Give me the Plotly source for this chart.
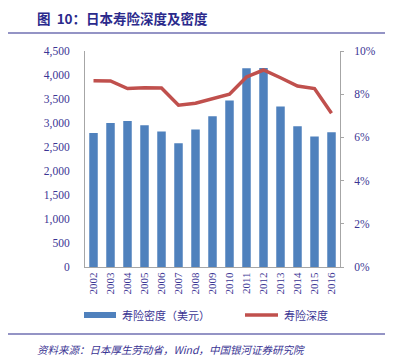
import plotly.graph_objects as go

years = [str(y) for y in range(2002, 2017)]
density_usd = [2790, 3000, 3040, 2955, 2825, 2580, 2865, 3140, 3470, 4140, 4145, 3345, 2930, 2720, 2805]
depth_pct = [8.62, 8.61, 8.26, 8.30, 8.29, 7.49, 7.58, 7.79, 8.00, 8.80, 9.12, 8.76, 8.38, 8.26, 7.12]
left_ticks = list(range(0, 4501, 500))
right_ticks = [0, 2, 4, 6, 8, 10]

OFF = 8  # page body margin
W, H = 397 - OFF, 361 - OFF
# plot area in reference screen pixels
X0, X1, Y0, Y1 = 85, 340, 51, 267
L, R, T, B = X0 - OFF, W - (X1 - OFF), Y0 - OFF, H - (Y1 - OFF)
tick_color = "#3b3594"
serif = "Liberation Serif, Times New Roman, serif"
cjk = "Noto Sans CJK SC, sans-serif"

fig = go.Figure()
fig.add_trace(go.Bar(x=years, y=density_usd, marker=dict(color="#4f81bd", line=dict(width=0)),
                     name="寿险密度（美元）", showlegend=False))
fig.add_trace(go.Scatter(x=years, y=depth_pct, yaxis="y2", mode="lines",
                         line=dict(color="#c0504d", width=3.5), name="寿险深度", showlegend=False))

def px(x):  # reference screen x -> paper
    return (x - X0) / (X1 - X0)

def py(y):  # reference screen y -> paper
    return (Y1 - y) / (Y1 - Y0)

fig.update_layout(
    width=W, height=H,
    margin=dict(l=L, r=R, t=T, b=B, pad=0),
    paper_bgcolor="white", plot_bgcolor="white",
    bargap=0.5,
    xaxis=dict(type="category", tickangle=-90, showline=True, linecolor="#a6a6a6", linewidth=1,
               ticks="", tickfont=dict(family=serif, size=11, color=tick_color), showgrid=False),
    yaxis=dict(range=[0, 4500], tickvals=left_ticks, tickformat=",d", showgrid=False, zeroline=False,
               showline=True, linecolor="#a6a6a6", linewidth=1, ticks="",
               tickfont=dict(family=serif, size=11.5, color=tick_color), ticklabelstandoff=12),
    yaxis2=dict(range=[0, 10], tickvals=right_ticks, ticktext=[f"{v}%" for v in right_ticks],
                overlaying="y", side="right", showgrid=False, zeroline=False,
                showline=True, linecolor="#a6a6a6", linewidth=1, ticks="outside", ticklen=3,
                tickcolor="#a6a6a6",
                tickfont=dict(family=serif, size=11.5, color=tick_color), ticklabelstandoff=8),
    font=dict(family=serif),
)

shapes = [
    dict(type="line", xref="paper", yref="paper", x0=px(0), x1=px(385), y0=py(33), y1=py(33),
         line=dict(color="#2b2a8c", width=1.2)),
    dict(type="line", xref="paper", yref="paper", x0=px(0), x1=px(385), y0=py(334), y1=py(334),
         line=dict(color="#2b2a8c", width=1.2)),
    dict(type="rect", xref="paper", yref="paper", x0=px(84), x1=px(116), y0=py(318), y1=py(312),
         fillcolor="#4f81bd", line=dict(width=0)),
    dict(type="line", xref="paper", yref="paper", x0=px(245), x1=px(278), y0=py(315), y1=py(315),
         line=dict(color="#c0504d", width=3.5)),
]
annotations = [
    dict(text="<b>图  10：日本寿险深度及密度</b>", xref="paper", yref="paper", x=px(35), y=py(18),
         xanchor="left", yanchor="middle", showarrow=False,
         font=dict(family=cjk, size=13.5, color="#2b2a8c")),
    dict(text="寿险密度（美元）", xref="paper", yref="paper", x=px(120), y=py(315),
         xanchor="left", yanchor="middle", showarrow=False,
         font=dict(family=cjk, size=11, color=tick_color)),
    dict(text="寿险深度", xref="paper", yref="paper", x=px(282), y=py(315),
         xanchor="left", yanchor="middle", showarrow=False,
         font=dict(family=cjk, size=11, color=tick_color)),
    dict(text="<i>资料来源：日本厚生劳动省，Wind，中国银河证券研究院</i>", xref="paper", yref="paper",
         x=px(35), y=py(349), xanchor="left", yanchor="middle", showarrow=False,
         font=dict(family=cjk, size=10.5, color=tick_color)),
]
fig.update_layout(shapes=shapes, annotations=annotations)

fig.write_html("out.html")
